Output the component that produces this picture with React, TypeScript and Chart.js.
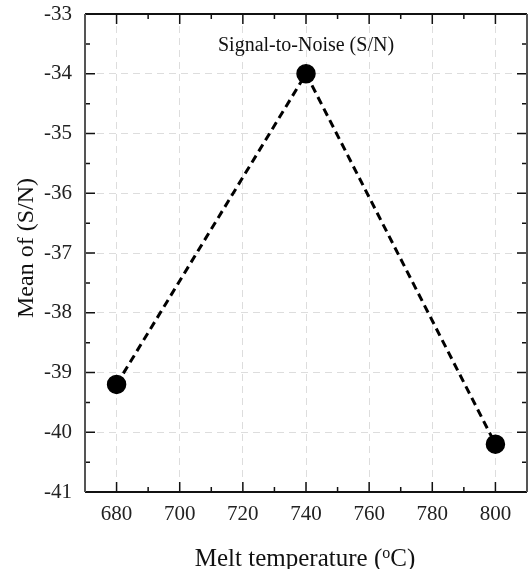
import { useEffect, useRef } from 'react';
import { Chart, registerables } from 'chart.js';

Chart.register(...registerables);

// ---- data ----
const temperatures = [680, 740, 800];
const meanSN = [-39.2, -34.0, -40.2];
const xTicks = [680, 700, 720, 740, 760, 780, 800];
const yTicks = [-33, -34, -35, -36, -37, -38, -39, -40, -41];
const xRange = [670, 810];
const yRange = [-41, -33];
const plotLabel = 'Signal-to-Noise (S/N)';
const plotLabelAt = [740, -33.62];
const xTitleParts = ['Melt temperature (', 'o', 'C)'];
const yTitle = 'Mean of (S/N)';

const FONT = '"Liberation Serif", "Times New Roman", serif';

const midpoints = (arr: number[]) => arr.slice(1).map((v, i) => (v + arr[i]) / 2);

const framePlugin = {
  id: 'frameTicks',
  beforeDatasetsDraw(chart: any) {
    const { ctx, chartArea: a, scales } = chart;
    const x = scales.x;
    const y = scales.y;
    ctx.save();
    ctx.strokeStyle = '#111';
    ctx.lineWidth = 1.5;
    ctx.beginPath();
    const xt = (v: number, len: number) => {
      const px = x.getPixelForValue(v);
      ctx.moveTo(px, a.bottom);
      ctx.lineTo(px, a.bottom - len);
      ctx.moveTo(px, a.top);
      ctx.lineTo(px, a.top + len);
    };
    const yt = (v: number, len: number) => {
      const py = y.getPixelForValue(v);
      ctx.moveTo(a.left, py);
      ctx.lineTo(a.left + len, py);
      ctx.moveTo(a.right, py);
      ctx.lineTo(a.right - len, py);
    };
    xTicks.forEach((v) => xt(v, 10));
    midpoints(xTicks).forEach((v) => xt(v, 5));
    yTicks.forEach((v) => yt(v, 10));
    midpoints(yTicks).forEach((v) => yt(v, 5));
    ctx.stroke();

    ctx.lineWidth = 2;
    ctx.strokeStyle = '#111';
    ctx.beginPath();
    ctx.moveTo(a.left, a.top);
    ctx.lineTo(a.right, a.top);
    ctx.moveTo(a.left, a.bottom);
    ctx.lineTo(a.right, a.bottom);
    ctx.stroke();
    ctx.strokeStyle = '#555';
    ctx.beginPath();
    ctx.moveTo(a.left, a.top);
    ctx.lineTo(a.left, a.bottom);
    ctx.moveTo(a.right, a.top);
    ctx.lineTo(a.right, a.bottom);
    ctx.stroke();
    ctx.restore();
  },
  afterDraw(chart: any) {
    const { ctx, chartArea: a, scales } = chart;
    const x = scales.x;
    const y = scales.y;
    ctx.save();
    ctx.fillStyle = '#111';
    ctx.font = `20px ${FONT}`;
    ctx.textAlign = 'center';
    ctx.textBaseline = 'alphabetic';
    ctx.fillText(plotLabel, x.getPixelForValue(plotLabelAt[0]), y.getPixelForValue(plotLabelAt[1]));

    ctx.save();
    ctx.font = `24px ${FONT}`;
    ctx.translate(33, (a.top + a.bottom) / 2 - 5);
    ctx.rotate(-Math.PI / 2);
    ctx.textAlign = 'center';
    ctx.fillText(yTitle, 0, 0);
    ctx.restore();

    const mainFont = `25px ${FONT}`;
    const supFont = `16px ${FONT}`;
    ctx.textAlign = 'left';
    ctx.font = mainFont;
    const w1 = ctx.measureText(xTitleParts[0]).width;
    const w3 = ctx.measureText(xTitleParts[2]).width;
    ctx.font = supFont;
    const w2 = ctx.measureText(xTitleParts[1]).width;
    const total = w1 + w2 + w3;
    const cx = (a.left + a.right) / 2 - 1;
    let sx = cx - total / 2;
    const base = 566;
    ctx.font = mainFont;
    ctx.fillText(xTitleParts[0], sx, base);
    sx += w1;
    ctx.font = supFont;
    ctx.fillText(xTitleParts[1], sx, base - 8);
    sx += w2;
    ctx.font = mainFont;
    ctx.fillText(xTitleParts[2], sx, base);
    ctx.restore();
  },
};

export default function App() {
  const canvasRef = useRef<HTMLCanvasElement | null>(null);

  useEffect(() => {
    if (!canvasRef.current) return;
    const chart = new Chart(canvasRef.current, {
      type: 'line',
      data: {
        datasets: [
          {
            label: plotLabel,
            data: temperatures.map((t, i) => ({ x: t, y: meanSN[i] })),
            borderColor: '#000',
            borderWidth: 3,
            borderDash: [8, 5],
            pointRadius: 9,
            pointBorderWidth: 1.5,
            pointBackgroundColor: '#000',
            pointBorderColor: '#000',
            fill: false,
            tension: 0,
            clip: false as any,
          },
        ],
      },
      options: {
        responsive: false,
        animation: false,
        devicePixelRatio: 1,
        layout: { autoPadding: false, padding: { left: 0, right: 2, top: 14, bottom: 0 } },
        plugins: {
          legend: { display: false },
          tooltip: { enabled: false },
          title: { display: false },
        },
        scales: {
          x: {
            type: 'linear',
            min: xRange[0],
            max: xRange[1],
            afterBuildTicks: (s: any) => {
              s.ticks = xTicks.map((v) => ({ value: v }));
            },
            afterFit: (s: any) => {
              s.height = 77;
              s.paddingLeft = 0;
              s.paddingRight = 0;
              s.paddingTop = 0;
              s.paddingBottom = 0;
            },
            ticks: {
              stepSize: 20,
              includeBounds: false,
              padding: 10,
              maxRotation: 0,
              autoSkip: false,
              color: '#222',
              font: { family: FONT, size: 21 },
            },
            grid: { color: '#dddddd', lineWidth: 1, drawTicks: false },
            border: { display: false, dash: [7, 5] },
          },
          y: {
            type: 'linear',
            min: yRange[0],
            max: yRange[1],
            afterBuildTicks: (s: any) => {
              s.ticks = yTicks.map((v) => ({ value: v }));
            },
            afterFit: (s: any) => {
              s.width = 85;
              s.paddingLeft = 0;
              s.paddingRight = 0;
              s.paddingTop = 0;
              s.paddingBottom = 0;
            },
            ticks: {
              stepSize: 1,
              includeBounds: false,
              padding: 13,
              autoSkip: false,
              color: '#222',
              font: { family: FONT, size: 21 },
            },
            grid: { color: '#dddddd', lineWidth: 1, drawTicks: false },
            border: { display: false, dash: [7, 5] },
          },
        },
      },
      plugins: [framePlugin],
    });
    return () => chart.destroy();
  }, []);

  return (
    <div style={{ position: 'fixed', left: 0, top: 0, width: 529, height: 569, background: '#fff' }}>
      <canvas ref={canvasRef} width={529} height={569} style={{ display: 'block' }} />
    </div>
  );
}
